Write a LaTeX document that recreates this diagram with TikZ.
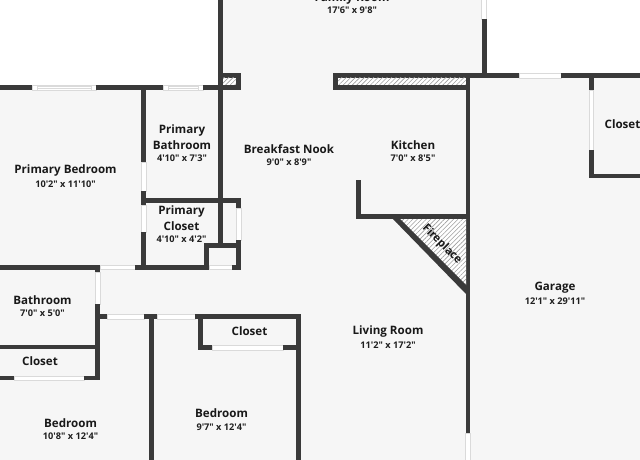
\documentclass[tikz,border=0pt]{standalone}
\usepackage{fontspec}
\newfontfamily\lblfont{Open Sans}
\usetikzlibrary{patterns.meta}
\definecolor{wallc}{HTML}{3A3A3A}
\definecolor{floorc}{HTML}{F6F6F6}
\definecolor{edgec}{HTML}{DADADA}
\tikzset{
  wallfill/.style={fill=wallc,draw=none},
  opening/.style={fill=white,draw=edgec,line width=0.5pt},
  hatchfill/.style={pattern={Lines[angle=45,distance=3.2pt,line width=0.6pt]},pattern color=black!38},
  rname/.style={font=\lblfont\bfseries\fontsize{11.6}{13}\selectfont,text=black!90,inner sep=0pt,anchor=center,yshift=-0.6pt},
  rsize/.style={font=\lblfont\bfseries\fontsize{9.2}{11}\selectfont,text=black!88,inner sep=0pt,anchor=center,yshift=-0.4pt}
}
\newcommand\wl[4]{\fill[wallfill] (#1,#2) rectangle (#3,#4);}
\newcommand\op[4]{\filldraw[opening] (#1,#2) rectangle (#3,#4);}
\begin{document}
\begin{tikzpicture}[x=1pt,y=-1pt]
\useasboundingbox (0,0) rectangle (640,460);
\fill[white] (0,0) rectangle (640,460);
% floor
\fill[floorc] (0,87) -- (220,87) -- (220,0) -- (485,0) -- (485,75) -- (640,75) -- (640,460) -- (0,460) -- cycle;
% top-left wall with windows
\wl{0}{85}{32}{90}
\op{32}{85}{96}{90}
\draw[edgec,line width=0.5pt] (37,86.5) -- (91,86.5) (37,88.5) -- (91,88.5) (37,85) -- (37,90) (91,85) -- (91,90);
\wl{96}{85}{163}{90}
\op{163}{85}{203}{90}
\draw[edgec,line width=0.5pt] (168,86.5) -- (198,86.5) (168,88.5) -- (198,88.5) (168,85) -- (168,90) (198,85) -- (198,90);
\wl{203}{85}{222}{90}
% main spine and chase
\wl{218}{0}{222.5}{243}
\wl{220}{73}{241}{90}
\fill[white] (223,78) rectangle (236,85);
\fill[hatchfill] (223,78) rectangle (236,85);
% primary bath / closet
\wl{141}{87}{146}{162}
\op{141}{162}{146}{191}
\wl{141}{191}{146}{205}
\op{141}{205}{146}{232}
\wl{141}{232}{146}{266}
\wl{141}{198}{241}{203}
\wl{236}{198}{241}{208}
\op{236}{208}{241}{240}
\wl{236}{240}{241}{269.5}
\wl{204}{243}{241}{248}
\wl{204}{243}{209}{269}
% corridor north wall
\wl{0}{265}{100}{269.5}
\op{100}{265}{135}{269.5}
\wl{135}{265}{209}{269.5}
\op{209}{265}{232}{269.5}
\wl{232}{265}{241}{269.5}
% bathroom and closet
\wl{95}{265}{100}{272}
\op{95}{272}{100}{304}
\wl{95}{304}{100}{380}
\wl{0}{344.5}{100}{349}
\wl{0}{376}{14}{380}
\op{14}{376}{84}{380}
\wl{84}{376}{100}{380}
% corridor south wall
\wl{95}{314}{107}{319}
\op{107}{314}{144}{319}
\wl{144}{314}{157}{319}
\op{157}{314}{195}{319}
\wl{195}{314}{300.5}{319}
\wl{149}{314}{154}{460}
\wl{296}{314}{300.5}{460}
% bedroom closet
\wl{198}{314}{203}{350}
\wl{198}{345}{212}{350}
\op{212}{345}{283}{350}
\wl{283}{345}{300.5}{350}
% kitchen and family room
\op{481.5}{-2}{486.5}{19}
\wl{481.5}{19}{486.5}{75}
\wl{333}{73}{519}{78}
\wl{333}{73}{338}{90}
\wl{333}{85}{470}{90}
\fill[white] (338,78) rectangle (466,85);
\fill[hatchfill] (338,78) rectangle (466,85);
\op{519}{73}{561}{78}
\wl{561}{73}{642}{78}
\wl{465.7}{78}{470.3}{433}
\op{465.7}{433}{470.3}{462}
% garage closet
\wl{589}{77}{593.5}{90}
\op{589}{90}{593.5}{150}
\wl{589}{150}{593.5}{178}
\wl{589}{173.5}{642}{178}
% kitchen stub
\wl{356}{180}{361}{219}
\wl{356}{214}{470}{219}
% fireplace
\fill[white] (393,219) -- (466,219) -- (466,293) -- cycle;
\fill[hatchfill] (393,219) -- (466,219) -- (466,293) -- cycle;
\fill[wallfill] (391,217) -- (398,217) -- (468,287) -- (468,294) -- (466,294) -- cycle;
% labels
\node[rname] (nfamily) at (352,-2.5) {Family Room};
\node[rsize] (sfamily) at (352,10) {17'6" x 9'8"};
\node[rname] (nprimbed) at (65.5,170) {Primary Bedroom};
\node[rsize] (sprimbed) at (65.5,184) {10'2" x 11'10"};
\node[rname] (nprimbath1) at (182,129.5) {Primary};
\node[rname] (nprimbath2) at (182,144.5) {Bathroom};
\node[rsize] (sprimbath) at (182,157.5) {4'10" x 7'3"};
\node[rname] (nbreak) at (289,149) {Breakfast Nook};
\node[rsize] (sbreak) at (289,162) {9'0" x 8'9"};
\node[rname] (nkitchen) at (413,145) {Kitchen};
\node[rsize] (skitchen) at (413,158) {7'0" x 8'5"};
\node[rname] (nprimclo1) at (181.5,211) {Primary};
\node[rname] (nprimclo2) at (181.5,225.5) {Closet};
\node[rsize] (sprimclo) at (181.5,238.5) {4'10" x 4'2"};
\node[rname] (nbath) at (42.5,300) {Bathroom};
\node[rsize] (sbath) at (42.5,313) {7'0" x 5'0"};
\node[rname] (ncloset1) at (40,361) {Closet};
\node[rname] (ncloset2) at (249.5,331) {Closet};
\node[rname] (ncloset3) at (622.5,123.5) {Closet};
\node[rname] (nbed1) at (70.5,422.5) {Bedroom};
\node[rsize] (sbed1) at (70.5,436) {10'8" x 12'4"};
\node[rname] (nbed2) at (221.5,413) {Bedroom};
\node[rsize] (sbed2) at (221.5,426.5) {9'7" x 12'4"};
\node[rname] (nliving) at (388,331) {Living Room};
\node[rsize] (sliving) at (388,345) {11'2" x 17'2"};
\node[rname] (ngarage) at (555,287.5) {Garage};
\node[rsize] (sgarage) at (555,301) {12'1" x 29'11"};
\node[rname,rotate=-45,font=\lblfont\bfseries\fontsize{11.2}{12}\selectfont] (nfire) at (442,244) {Fireplace};
\end{tikzpicture}
\end{document}
